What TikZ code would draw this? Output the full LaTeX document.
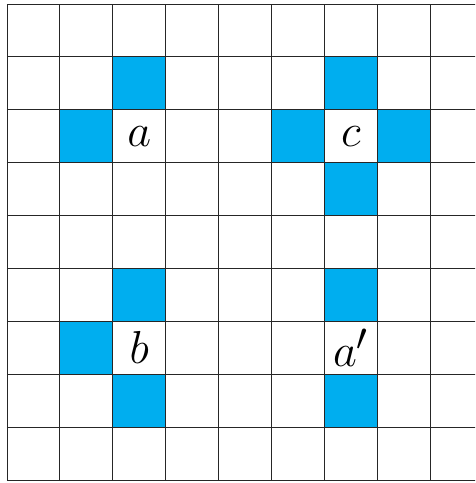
\documentclass[tikz,border=0pt]{standalone}
\usepackage{tikz}

\definecolor{cellblue}{RGB}{0,174,239}

\begin{document}
\begin{tikzpicture}[line width=0.5pt, line join=round,
    bluecell/.style={fill=cellblue, draw=none},
    celllabel/.style={font=\Huge, inner sep=0pt}]

    % Riquadro della figura (la griglia e' tagliata a destra)
    \useasboundingbox (-0.132, -0.057) rectangle (8.849, 9.075);
    \clip (-0.132, -0.057) rectangle (8.849, 9.075);

    % Celle colorate (colonna, riga dal basso)
    \foreach \cx/\cy in {2/7, 1/6, 2/3, 1/2, 2/1,
                         6/7, 5/6, 7/6, 6/5, 6/3, 6/1}
        \fill[bluecell] (\cx, \cy) rectangle ++(1, 1);

    % Griglia 9x9
    \draw[black!85] (0, 0) grid (9, 9);

    % Etichette delle celle
    \node[celllabel] (a)  at (2.5, 6.5) {$a$};
    \node[celllabel] (c)  at (6.5, 6.5) {$c$};
    \node[celllabel] (b)  at (2.5, 2.5) {$b$};
    \node[celllabel] (ap) at (6.5, 2.5) {$a'$};

\end{tikzpicture}
\end{document}
